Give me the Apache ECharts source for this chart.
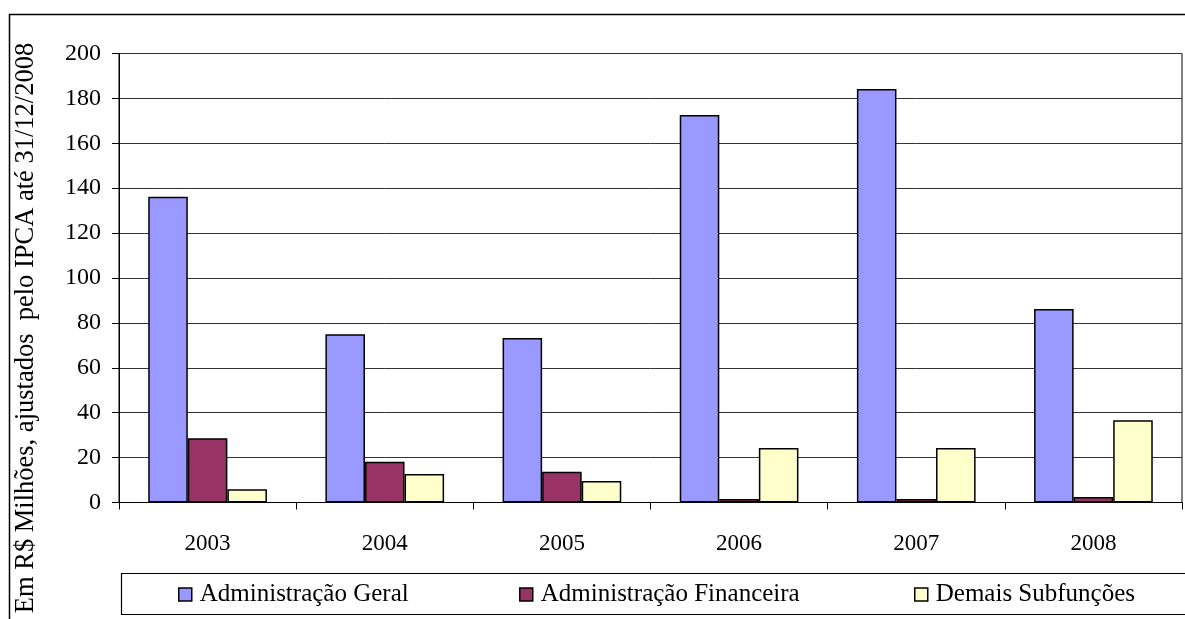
<!DOCTYPE html>
<html>
<head>
<meta charset="utf-8">
<script src="https://cdn.jsdelivr.net/npm/echarts@6/dist/echarts.min.js"></script>
<style>
  html, body { margin: 0; padding: 0; background: #fff; }
  #chart { width: 1185px; height: 619px; }
</style>
</head>
<body>
<div id="chart"></div>
<script>
var chart = echarts.init(document.getElementById('chart'));

const years = ['2003', '2004', '2005', '2006', '2007', '2008'];
const adminGeral = [136.2, 75.0, 73.3, 172.6, 184.2, 86.2];
const adminFinanceira = [28.6, 18.2, 13.7, 1.6, 1.6, 2.4];
const demaisSubfuncoes = [5.9, 12.7, 9.6, 24.3, 24.3, 36.6];
const yTitle = 'Em R$ Milhões, ajustados  pelo IPCA até 31/12/2008';

const font = '"Liberation Serif", "Times New Roman", serif';

const barSeries = (name, data, color) => ({
  name: name,
  type: 'bar',
  data: data,
  barGap: '0%',
  barCategoryGap: '33%',
  itemStyle: { color: color, borderColor: '#000', borderWidth: 1.5 }
});

const legendAt = (name, left) => ({
  data: [{ name: name, icon: 'rect' }],
  left: left,
  top: 582,
  padding: 0,
  itemWidth: 13,
  itemHeight: 13,
  itemStyle: { borderColor: '#000', borderWidth: 1.5 },
  textStyle: { fontFamily: font, fontSize: 25, color: '#000', padding: [0, 0, 0, 3] }
});

var option = {
  animation: false,
  backgroundColor: '#fff',
  textStyle: { fontFamily: font },
  grid: {
    left: 119,
    right: 3,
    top: 53.5,
    bottom: 116.5,
    show: true,
    borderColor: '#000',
    borderWidth: 1
  },
  xAxis: {
    type: 'category',
    data: years,
    axisLine: { lineStyle: { color: '#000', width: 1 } },
    axisTick: { show: true, length: 7, lineStyle: { color: '#000' } },
    axisLabel: { fontFamily: font, fontSize: 23, color: '#000', margin: 30 }
  },
  yAxis: {
    type: 'value',
    min: 0,
    max: 200,
    interval: 20,
    axisLine: { show: true, lineStyle: { color: '#000', width: 1 } },
    axisTick: { show: true, length: 7, lineStyle: { color: '#000' } },
    axisLabel: { fontFamily: font, fontSize: 24, color: '#000', margin: 18 },
    splitLine: { lineStyle: { color: '#333', width: 1 } }
  },
  legend: [
    legendAt('Administração Geral', 178),
    legendAt('Administração Financeira', 519),
    legendAt('Demais Subfunções', 914)
  ],
  graphic: [
    {
      type: 'rect',
      shape: { x: 9.5, y: 14.5, width: 1200, height: 700 },
      style: { fill: null, stroke: '#000', lineWidth: 1.5 },
      silent: true
    },
    {
      type: 'rect',
      shape: { x: 121.5, y: 573.5, width: 1100, height: 41 },
      style: { fill: null, stroke: '#000', lineWidth: 1.2 },
      silent: true
    },
    {
      type: 'text',
      x: 26,
      y: 328,
      rotation: Math.PI / 2,
      style: {
        text: yTitle,
        fontFamily: font,
        fontSize: 26.5,
        fill: '#000',
        align: 'center',
        verticalAlign: 'middle'
      }
    }
  ],
  series: [
    barSeries('Administração Geral', adminGeral, '#9999FF'),
    barSeries('Administração Financeira', adminFinanceira, '#993366'),
    barSeries('Demais Subfunções', demaisSubfuncoes, '#FFFFCC')
  ]
};

chart.setOption(option);
</script>
</body>
</html>
